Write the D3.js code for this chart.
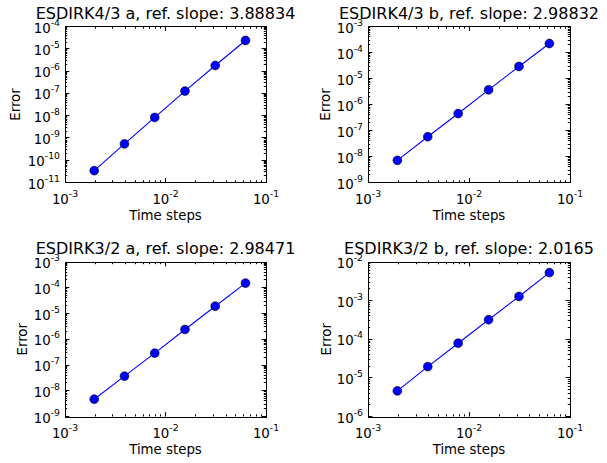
<!DOCTYPE html>
<html>
<head>
<meta charset="utf-8">
<script src="https://cdn.jsdelivr.net/npm/d3@7"></script>
<style>
  html, body { margin: 0; padding: 0; background: #fff; }
  svg { display: block; font-family: "DejaVu Sans", sans-serif; }
</style>
</head>
<body>
<svg id="fig" width="607" height="463"></svg>
<script>
// Step sizes shared by all four convergence runs
const steps = [1 / 512, 1 / 256, 1 / 128, 1 / 64, 1 / 32, 1 / 16];

// Measured errors per scheme
const errESDIRK43a = [3.4e-11, 5.4e-10, 8.3e-9, 1.27e-7, 1.78e-6, 2.36e-5];
const errESDIRK43b = [7.1e-9, 5.75e-8, 4.5e-7, 3.67e-6, 2.9e-5, 2.22e-4];
const errESDIRK32a = [4.7e-9, 3.7e-8, 2.9e-7, 2.4e-6, 1.92e-5, 1.52e-4];
const errESDIRK32b = [4.6e-6, 1.96e-5, 7.9e-5, 3.2e-4, 1.28e-3, 5.3e-3];

const titles = [
  "ESDIRK4/3 a, ref. slope: 3.88834",
  "ESDIRK4/3 b, ref. slope: 2.98832",
  "ESDIRK3/2 a, ref. slope: 2.98471",
  "ESDIRK3/2 b, ref. slope: 2.0165"
];

// Axis ranges as decade exponents
const xExpRange = [-3, -1];
const yExpRanges = [[-11, -4], [-9, -3], [-9, -3], [-6, -2]];

const xLabel = "Time steps";
const yLabel = "Error";

const series = [errESDIRK43a, errESDIRK43b, errESDIRK32a, errESDIRK32b];

// Subplot frames (pixels) and y-label baseline x
const frames = [
  { x0: 65, x1: 266, y0: 26.5, y1: 182.5, ylabX: 19.5 },
  { x0: 368, x1: 570, y0: 26.5, y1: 182.5, ylabX: 330 },
  { x0: 65, x1: 266, y0: 262, y1: 416.5, ylabX: 27 },
  { x0: 368, x1: 570, y0: 262, y1: 416.5, ylabX: 330.5 }
];

const FS = 13.33;      // base font size
const SUP = 9.3;       // superscript size
const MAJ = 4.4, MIN = 2.2;
const snap = v => Math.round(v - 0.5) + 0.5;

const svg = d3.select("#fig");

function decades(lo, hi) { return d3.range(lo, hi + 1); }
function minors(lo, hi) {
  const out = [];
  for (let e = lo; e < hi; e++) for (let k = 2; k <= 9; k++) out.push(k * Math.pow(10, e));
  return out;
}
function addPow(text, exp) {
  text.append("tspan").text("10");
  text.append("tspan").attr("dy", -7).attr("font-size", SUP).text(String(exp));
}

frames.forEach((f, i) => {
  const [ylo, yhi] = yExpRanges[i];
  const x = d3.scaleLog().domain([Math.pow(10, xExpRange[0]), Math.pow(10, xExpRange[1])]).range([f.x0, f.x1]);
  const y = d3.scaleLog().domain([Math.pow(10, ylo), Math.pow(10, yhi)]).range([f.y1, f.y0]);
  const g = svg.append("g");

  const xMaj = decades(xExpRange[0], xExpRange[1]).map(e => Math.pow(10, e));
  const yMaj = decades(ylo, yhi).map(e => Math.pow(10, e));
  const xMin = minors(xExpRange[0], xExpRange[1]);
  const yMin = minors(ylo, yhi);

  const tick = g.append("g").attr("stroke", "#000").attr("stroke-width", 1);
  // inward ticks on bottom and top
  [[xMaj, MAJ], [xMin, MIN]].forEach(([vals, len]) => {
    vals.forEach(v => {
      const px = snap(x(v));
      tick.append("line").attr("x1", px).attr("x2", px).attr("y1", f.y1).attr("y2", f.y1 - len);
      tick.append("line").attr("x1", px).attr("x2", px).attr("y1", f.y0).attr("y2", f.y0 + len);
    });
  });
  // inward ticks on left and right
  [[yMaj, MAJ], [yMin, MIN]].forEach(([vals, len]) => {
    vals.forEach(v => {
      const py = snap(y(v));
      tick.append("line").attr("y1", py).attr("y2", py).attr("x1", f.x0).attr("x2", f.x0 + len);
      tick.append("line").attr("y1", py).attr("y2", py).attr("x1", f.x1).attr("x2", f.x1 - len);
    });
  });

  // frame
  g.append("rect")
    .attr("x", snap(f.x0)).attr("y", snap(f.y0))
    .attr("width", Math.round(f.x1 - f.x0)).attr("height", Math.round(f.y1 - f.y0))
    .attr("fill", "none").attr("stroke", "#000").attr("stroke-width", 1);

  // x tick labels
  decades(xExpRange[0], xExpRange[1]).forEach(e => {
    const t = g.append("text").attr("x", x(Math.pow(10, e))).attr("y", f.y1 + 21)
      .attr("text-anchor", "middle").attr("font-size", FS).attr("fill", "#000");
    addPow(t, e);
  });
  // y tick labels
  decades(ylo, yhi).forEach(e => {
    const t = g.append("text").attr("x", f.x0 - 5).attr("y", y(Math.pow(10, e)) + 6)
      .attr("text-anchor", "end").attr("font-size", FS).attr("fill", "#000");
    addPow(t, e);
  });

  // axis labels
  g.append("text").attr("x", (f.x0 + f.x1) / 2).attr("y", f.y1 + 37)
    .attr("text-anchor", "middle").attr("font-size", FS).text(xLabel);
  g.append("text")
    .attr("transform", `translate(${f.ylabX},${(f.y0 + f.y1) / 2}) rotate(-90)`)
    .attr("text-anchor", "middle").attr("font-size", FS).text(yLabel);

  // title
  g.append("text").attr("x", (f.x0 + f.x1) / 2).attr("y", f.y0 - 8)
    .attr("text-anchor", "middle").attr("font-size", 16).text(titles[i]);

  // data
  const pts = steps.map((s, j) => [s, series[i][j]]);
  g.append("path").datum(pts)
    .attr("d", d3.line().x(d => x(d[0])).y(d => y(d[1])))
    .attr("fill", "none").attr("stroke", "#0000ff").attr("stroke-width", 1.1);
  g.selectAll("circle.m").data(pts).join("circle")
    .attr("class", "m")
    .attr("cx", d => x(d[0])).attr("cy", d => y(d[1])).attr("r", 4.4)
    .attr("fill", "#0000ff").attr("stroke", "#000").attr("stroke-width", 0.6);
});
</script>
</body>
</html>
